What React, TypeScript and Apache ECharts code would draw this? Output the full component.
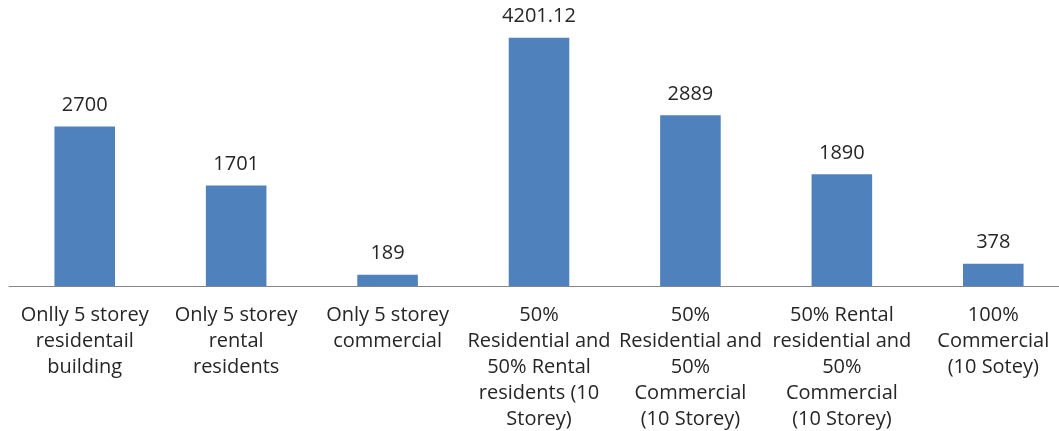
import React, { useEffect, useRef } from "react";
import * as echarts from "echarts";

const categories: string[] = [
  "Onlly 5 storey\nresidentail\nbuilding",
  "Only 5 storey\nrental\nresidents",
  "Only 5 storey\ncommercial",
  "50%\nResidential and\n50% Rental\nresidents (10\nStorey)",
  "50%\nResidential and\n50%\nCommercial\n(10 Storey)",
  "50% Rental\nresidential and\n50%\nCommercial\n(10 Storey)",
  "100%\nCommercial\n(10 Sotey)",
];
const values: number[] = [2700, 1701, 189, 4201.12, 2889, 1890, 378];
const valueLabels: string[] = ["2700", "1701", "189", "4201.12", "2889", "1890", "378"];

export default function App() {
  const ref = useRef<HTMLDivElement>(null);
  useEffect(() => {
    if (!ref.current) return;
    const chart = echarts.init(ref.current, null, { renderer: "svg" });
    chart.setOption({
      animation: false,
      grid: { left: 9, top: 20, right: 1, height: 266, containLabel: false },
      xAxis: {
        type: "category",
        data: categories,
        axisLine: { show: true, lineStyle: { color: "#868686", width: 1 } },
        axisTick: { show: false },
        axisLabel: {
          interval: 0,
          hideOverlap: false,
          color: "#262626",
          fontFamily: "Open Sans",
          fontSize: 20,
          lineHeight: 26,
          margin: 14,
          align: "center",
        },
      },
      yAxis: {
        type: "value",
        min: 0,
        max: 4500,
        show: false,
        splitLine: { show: false },
      },
      series: [
        {
          type: "bar",
          data: values,
          barWidth: "40%",
          itemStyle: { color: "#4F81BD" },
          label: {
            show: true,
            position: "top",
            distance: 13,
            color: "#262626",
            fontFamily: "Open Sans",
            fontSize: 20,
            formatter: (p: any) => valueLabels[p.dataIndex],
          },
        },
      ],
    });
    return () => chart.dispose();
  }, []);
  return (
    <div style={{ position: "fixed", left: 0, top: 0, width: 1059, height: 431, overflow: "hidden" }}>
      <div ref={ref} style={{ width: 1070, height: 431 }} />
    </div>
  );
}
